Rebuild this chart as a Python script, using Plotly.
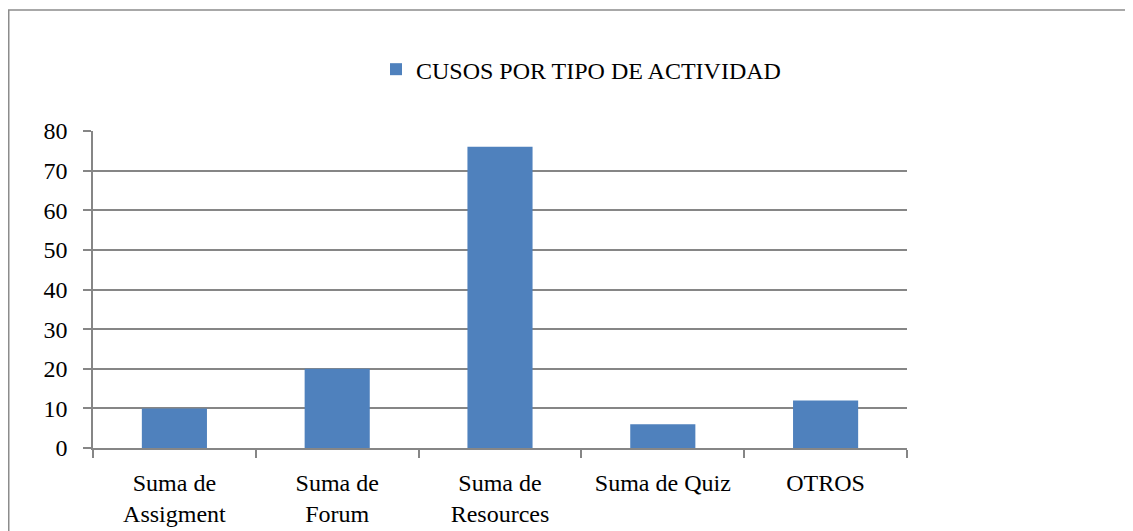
import plotly.graph_objects as go

categories = ["Suma de<br>Assigment", "Suma de<br>Forum", "Suma de<br>Resources", "Suma de Quiz", "OTROS"]
values = [10, 20, 76, 6, 12]
series_name = "CUSOS POR TIPO DE ACTIVIDAD"
y_ticks = [0, 10, 20, 30, 40, 50, 60, 70, 80]

W, H = 1133, 531
OFF = 8  # page body margin offset
L, R, T, B = 93 - OFF, 907 - OFF, 131 - OFF, 451 - OFF

fig = go.Figure(go.Bar(
    x=categories, y=values, name=series_name,
    marker=dict(color="#4F81BD", line=dict(width=0)),
    showlegend=True,
))

font = dict(family="Liberation Serif, DejaVu Serif, serif", size=24, color="#000000")

fig.update_layout(
    width=W, height=H,
    margin=dict(l=L, r=W - R, t=T, b=H - B, pad=0),
    paper_bgcolor="white", plot_bgcolor="white",
    font=font,
    bargap=0.6,
    legend=dict(orientation="h", x=(581 - OFF - L) / (R - L), y=(B - (69 - OFF)) / (B - T),
                xanchor="center", yanchor="middle", font=font,
                itemsizing="constant", bgcolor="rgba(0,0,0,0)"),
    xaxis=dict(
        type="category", showgrid=False, showline=True, linecolor="#868686", linewidth=1.5,
        ticks="outside", tickson="boundaries", ticklen=8, tickcolor="#868686", tickwidth=1.5,
        tickfont=font, ticklabelstandoff=12, zeroline=False,
    ),
    yaxis=dict(
        range=[0, 80], tickvals=y_ticks, showgrid=True, gridcolor="#868686", gridwidth=1.5,
        showline=True, linecolor="#868686", linewidth=1.5, ticks="outside", ticklen=8,
        tickcolor="#868686", tickwidth=1.5, tickfont=font, ticklabelstandoff=11,
        zeroline=False,
    ),
    shapes=[dict(type="rect", xref="paper", yref="paper",
                 x0=(0.75 - L) / (R - L), x1=(1200 - L) / (R - L),
                 y0=(B - 600) / (B - T), y1=(B - 0.75) / (B - T),
                 line=dict(color="#8c8c8c", width=1.5), fillcolor="rgba(0,0,0,0)", layer="below")],
)

fig.write_html("out.html")
